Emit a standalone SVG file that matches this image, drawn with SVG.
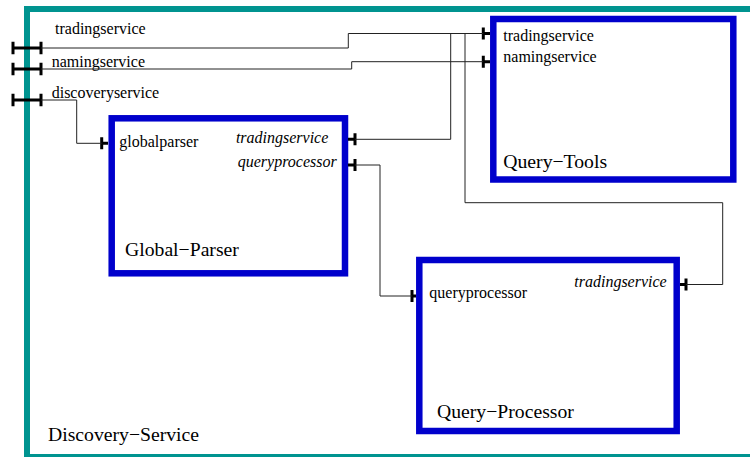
<svg xmlns="http://www.w3.org/2000/svg" width="750" height="457" viewBox="0 0 750 457">
<style>
text{font-family:'Liberation Serif','Times New Roman',Times,'DejaVu Serif',serif;fill:#000}
.s{font-size:16px}
.i{font-size:16px;font-style:italic;text-anchor:end}
.b{font-size:19.7px}
.box{fill:#fff;stroke:#0000cc;stroke-width:6.5}
.frame{fill:#fff;stroke:#009490;stroke-width:6}
.c{fill:none;stroke:#222;stroke-width:1}
.bar{stroke:#000;stroke-width:3;fill:none}
.stub{stroke:#000;stroke-width:3;fill:none}
</style>
<rect width="750" height="457" fill="#fff"/>
<g id="Discovery-Service" font-family="Liberation Serif, serif">
<rect class="frame" x="27" y="9" width="727" height="448"/>
<text class="b" x="48" y="441">Discovery−Service</text>
<text class="s" x="55" y="34">tradingservice</text>
<text class="s" x="51.7" y="66.5">namingservice</text>
<text class="s" x="51.7" y="98">discoveryservice</text>
<path class="stub" d="M13,48H41M13,69H41M13,100H41"/>
<path class="bar" d="M13,41.7V54.3M41,41.7V54.3M13,62.7V75.3M41,62.7V75.3M13,93.7V106.3M41,93.7V106.3"/>
</g>
<g id="Query-Tools" font-family="Liberation Serif, serif">
<rect class="box" x="493.3" y="19" width="240" height="160.5"/>
<text class="s" x="503.3" y="40.7">tradingservice</text>
<text class="s" x="503.3" y="62.3">namingservice</text>
<text class="b" x="503.3" y="168.3">Query−Tools</text>
<path class="stub" d="M483.3,33.5H490M483.3,61.7H490"/>
<path class="bar" d="M483.3,27.5V39.5M483.3,55.7V67.7"/>
</g>
<g id="Global-Parser" font-family="Liberation Serif, serif">
<rect class="box" x="111.7" y="118.3" width="233.3" height="155"/>
<text class="s" x="119.3" y="146.7">globalparser</text>
<text class="i" x="328.3" y="143">tradingservice</text>
<text class="i" x="336.7" y="166.7">queryprocessor</text>
<text class="b" x="125" y="256">Global−Parser</text>
<path class="stub" d="M101.7,143.3H108M348,139.3H355M348,165H355"/>
<path class="bar" d="M101.7,137.3V149.3M355,133.3V145.3M355,159V171"/>
</g>
<g id="Query-Processor" font-family="Liberation Serif, serif">
<rect class="box" x="419.3" y="260" width="257.4" height="171"/>
<text class="s" x="429.3" y="298.3">queryprocessor</text>
<text class="i" x="666.7" y="287.3">tradingservice</text>
<text class="b" x="437" y="418">Query−Processor</text>
<path class="stub" d="M412,296H416M680,284.5H686"/>
<path class="bar" d="M412,290V302M686,278.5V290.5"/>
</g>
<g id="connectors">
<path class="c" d="M41,48H348.3V33.5H483.3"/>
<path class="c" d="M41,69H351.7V61.7H483.3"/>
<path class="c" d="M41,100H76.7V143.3H101.7"/>
<path class="c" d="M355,139.3H450.7V33.5"/>
<path class="c" d="M465,33.5V202.7H722.7V284.5H686"/>
<path class="c" d="M355,165H380V296H412"/>
</g>
</svg>
